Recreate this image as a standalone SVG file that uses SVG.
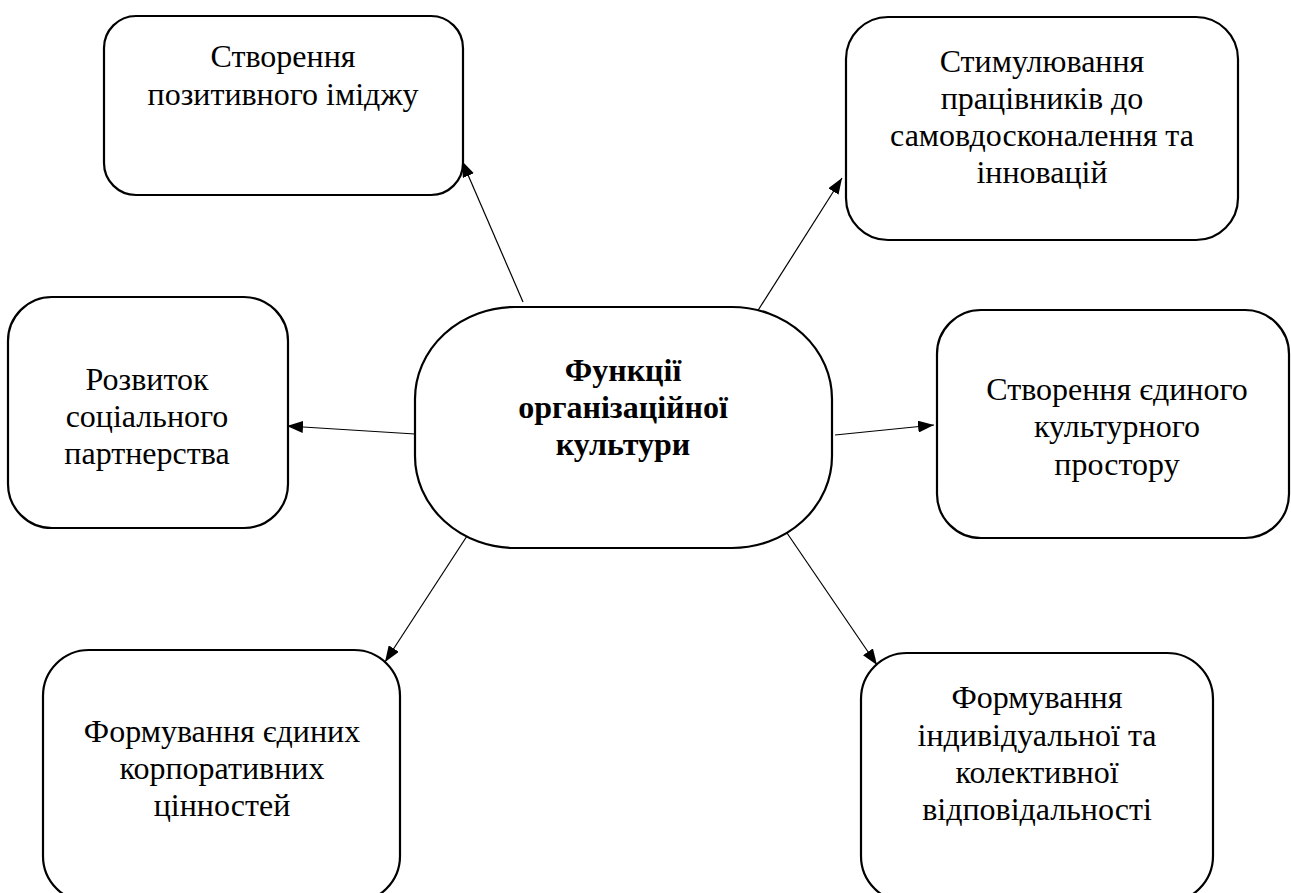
<svg xmlns="http://www.w3.org/2000/svg" width="1291" height="893" viewBox="0 0 1291 893">
<style>
.box{fill:#fff;stroke:#000;stroke-width:2.2}
.t{font-family:"Liberation Serif","Times New Roman",serif;font-size:32px;fill:#000;text-anchor:middle}
.b{font-weight:bold}
.c{stroke:#000;stroke-width:1.2;fill:none;marker-end:url(#ah)}
</style>
<defs>
<marker id="ah" viewBox="0 0 16 12" refX="16" refY="6" markerWidth="16" markerHeight="12" markerUnits="userSpaceOnUse" orient="auto">
<path d="M0,0 L16,6 L0,12 z" fill="#000"/>
</marker>
</defs>
<rect width="1291" height="893" fill="#fff"/>
<g id="connectors">
<line class="c" x1="523" y1="302" x2="462" y2="161"/>
<line class="c" x1="757" y1="312" x2="842" y2="178"/>
<line class="c" x1="415" y1="434" x2="287" y2="426"/>
<line class="c" x1="835" y1="435" x2="934" y2="425"/>
<line class="c" x1="467" y1="536" x2="385" y2="662"/>
<line class="c" x1="787" y1="533" x2="877" y2="665"/>
</g>
<g id="center">
<rect class="box" x="415" y="307" width="417" height="241" rx="100" ry="92"/>
<text class="t b" x="623" y="381">Функції</text>
<text class="t b" x="623" y="418">організаційної</text>
<text class="t b" x="623" y="455">культури</text>
</g>
<g id="n1">
<rect class="box" x="104" y="16" width="359" height="179" rx="32"/>
<text class="t" x="283" y="67">Створення</text>
<text class="t" x="283" y="105">позитивного іміджу</text>
</g>
<g id="n2">
<rect class="box" x="846" y="17" width="392" height="223" rx="42"/>
<text class="t" x="1042" y="72">Стимулювання</text>
<text class="t" x="1042" y="109">працівників до</text>
<text class="t" x="1042" y="146">самовдосконалення та</text>
<text class="t" x="1042" y="183">інновацій</text>
</g>
<g id="n3">
<rect class="box" x="8" y="297" width="280" height="231" rx="44"/>
<text class="t" x="147" y="390">Розвиток</text>
<text class="t" x="147" y="427">соціального</text>
<text class="t" x="147" y="464">партнерства</text>
</g>
<g id="n4">
<rect class="box" x="937" y="310" width="352" height="228" rx="44"/>
<text class="t" x="1117" y="400">Створення єдиного</text>
<text class="t" x="1117" y="437">культурного</text>
<text class="t" x="1117" y="475">простору</text>
</g>
<g id="n5">
<rect class="box" x="43" y="650" width="357" height="252" rx="46"/>
<text class="t" x="222" y="742">Формування єдиних</text>
<text class="t" x="222" y="779">корпоративних</text>
<text class="t" x="222" y="816">цінностей</text>
</g>
<g id="n6">
<rect class="box" x="861" y="653" width="352" height="249" rx="46"/>
<text class="t" x="1037" y="708">Формування</text>
<text class="t" x="1037" y="746">індивідуальної та</text>
<text class="t" x="1037" y="783">колективної</text>
<text class="t" x="1037" y="820">відповідальності</text>
</g>
</svg>
